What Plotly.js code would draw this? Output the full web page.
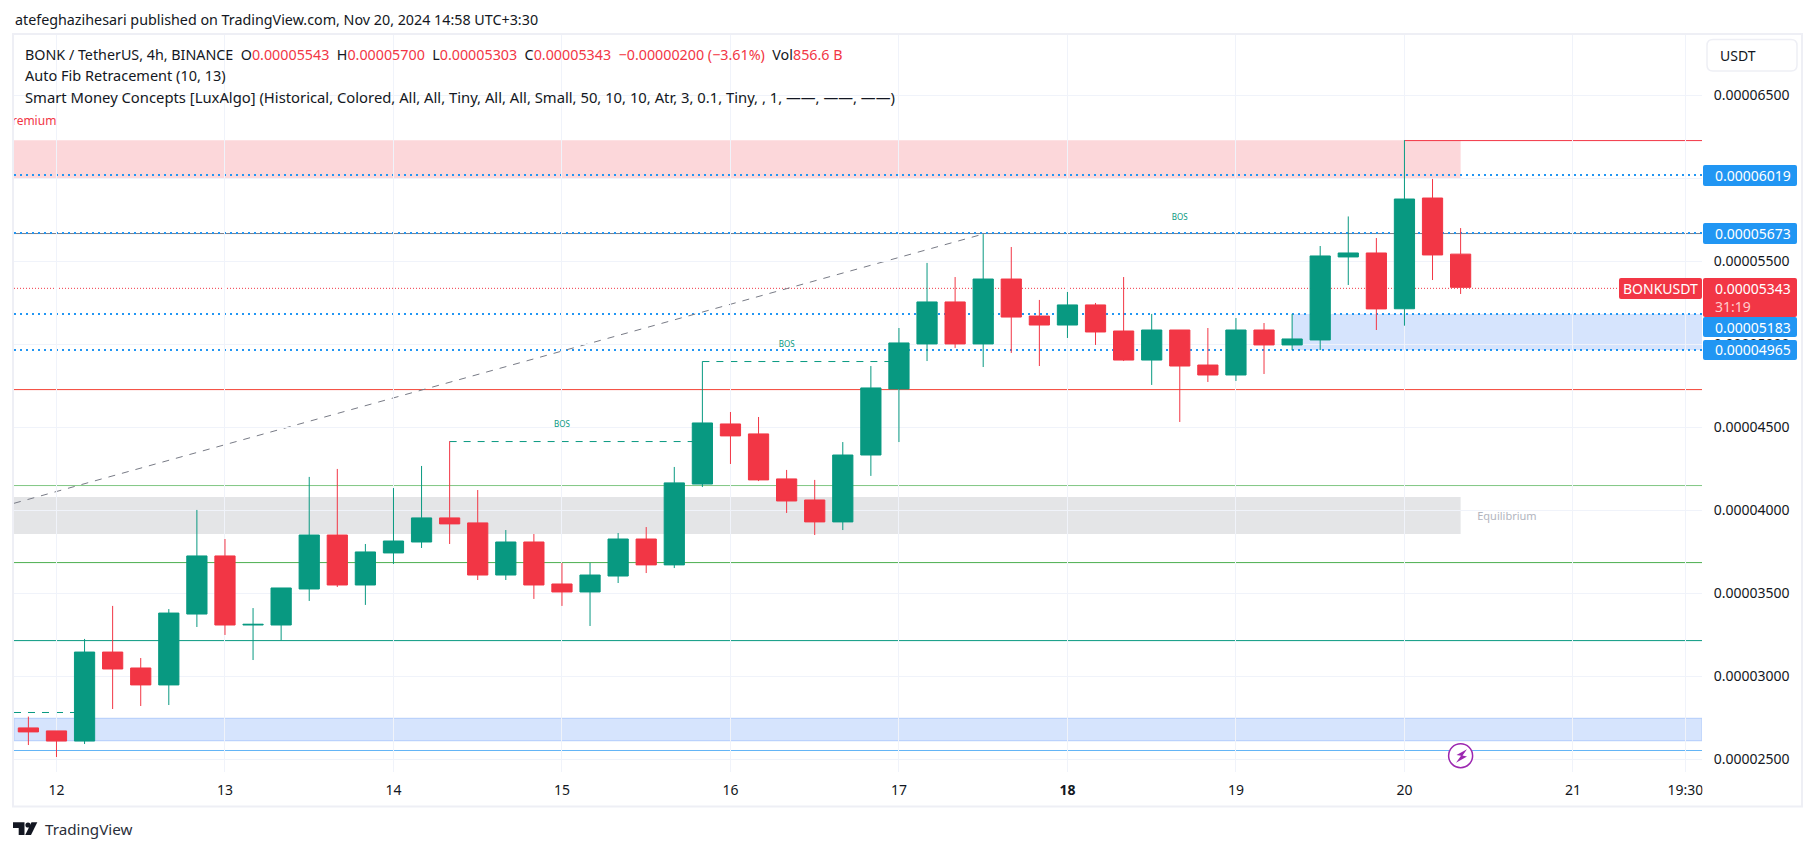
<!DOCTYPE html>
<html>
<head>
<meta charset="utf-8">
<script src="https://cdn.plot.ly/plotly-3.0.1.min.js"></script>
<style>html,body{margin:0;padding:0;background:#fff}</style>
</head>
<body>
<div id="chart"></div>
<script>
// BONK / USDT 4h, local time UTC+3:30. Prices are in units of 0.00000001
var times = [
  '2024-11-11 23:30',
  '2024-11-12 03:30','2024-11-12 07:30','2024-11-12 11:30','2024-11-12 15:30','2024-11-12 19:30','2024-11-12 23:30',
  '2024-11-13 03:30','2024-11-13 07:30','2024-11-13 11:30','2024-11-13 15:30','2024-11-13 19:30','2024-11-13 23:30',
  '2024-11-14 03:30','2024-11-14 07:30','2024-11-14 11:30','2024-11-14 15:30','2024-11-14 19:30','2024-11-14 23:30',
  '2024-11-15 03:30','2024-11-15 07:30','2024-11-15 11:30','2024-11-15 15:30','2024-11-15 19:30','2024-11-15 23:30',
  '2024-11-16 03:30','2024-11-16 07:30','2024-11-16 11:30','2024-11-16 15:30','2024-11-16 19:30','2024-11-16 23:30',
  '2024-11-17 03:30','2024-11-17 07:30','2024-11-17 11:30','2024-11-17 15:30','2024-11-17 19:30','2024-11-17 23:30',
  '2024-11-18 03:30','2024-11-18 07:30','2024-11-18 11:30','2024-11-18 15:30','2024-11-18 19:30','2024-11-18 23:30',
  '2024-11-19 03:30','2024-11-19 07:30','2024-11-19 11:30','2024-11-19 15:30','2024-11-19 19:30','2024-11-19 23:30',
  '2024-11-20 03:30','2024-11-20 07:30','2024-11-20 11:30'
];
var open = [2689,2671,2610,3146,3050,2948,3375,3725,3309,3309,3526,3851,3550,3743,3809,3954,3924,3610,3809,3556,3508,3604,3827,3671,
  4158,4520,4460,4189,4062,3930,4333,4731,5002,5255,5002,5393,5170,5116,5237,5080,4905,5086,4875,4815,5086,4996,5026,5526,5550,5214,5881,5543];
var high = [2757,2671,3225,3424,3110,3405,4002,3827,3411,3532,4201,4249,3797,4134,4267,4416,4122,3881,3857,3683,3683,3863,3899,4261,
  4897,4592,4562,4243,4183,4411,4869,5098,5490,5405,5664,5586,5267,5315,5249,5405,5183,5086,5098,5158,5128,5183,5592,5770,5640,6230,5996,5700];
var low = [2586,2514,2592,2803,2821,2827,3297,3249,3098,3217,3454,3538,3430,3677,3773,3797,3580,3580,3466,3424,3303,3562,3622,3652,
  4140,4279,4176,3984,3851,3881,4207,4411,4899,4978,4863,4948,4869,5038,4996,4899,4755,4532,4773,4779,4821,4965,4965,5357,5086,5112,5387,5303];
var close = [2665,2610,3146,3044,2948,3381,3725,3309,3313,3532,3851,3550,3749,3815,3954,3918,3610,3809,3550,3508,3610,3827,3671,4165,
  4526,4448,4183,4056,3930,4333,4737,5008,5255,5002,5393,5164,5116,5237,5074,4905,5086,4869,4815,5086,4996,5032,5532,5550,5213,5875,5538,5343];

var dayTicks = ['2024-11-12 03:30','2024-11-13 03:30','2024-11-14 03:30','2024-11-15 03:30','2024-11-16 03:30','2024-11-17 03:30',
  '2024-11-18 03:30','2024-11-19 03:30','2024-11-20 03:30','2024-11-21 03:30','2024-11-21 19:30'];
var dayLabels = ['12','13','14','15','16','17','<b>18</b>','19','20','21','19:30'];
var priceTicks = [2500,3000,3500,4000,4500,5000,5500,6000,6500];
var priceLabels = ['0.00002500','0.00003000','0.00003500','0.00004000','0.00004500','0.00005000','0.00005500','0.00006000','0.00006500'];

// levels, nudged a unit or two so they land on a whole pixel row
var dottedLevels = [6019,5670,5182,4965];
var fibLevels = [5667,4727,4149,3685,3215,2553];
var fibColors = ['#787b86','#f44336','#81c784','#4caf50','#089981','#64b5f6'];
var lastPrice = 5337;
var swingHigh = 6227;

var GREEN = '#089981', RED = '#f23645', BLUE = '#2196f3', INK = '#131722';
var FONT = '"Noto Sans", sans-serif';
var viewStart = '2024-11-11 21:27', viewEnd = '2024-11-21 21:53';

// pixel helpers for the page furniture around the pane
var xp = function(px){return (px - 14) / 1688;};
var yp = function(py){return 1 - (py - 35) / 737;};
var pt = function(px, py){return xp(px) + ' ' + yp(py);};

function zone(x0, x1, top, bottom, fill, border){
  return {type: 'rect', layer: 'below', xref: 'x', yref: 'y', x0: x0, x1: x1, y0: bottom, y1: top,
    fillcolor: fill, line: {width: border ? 1 : 0, color: border || fill}};
}
function hline(y, color, dash, width, x0){
  return {type: 'line', layer: 'below', xref: 'x', yref: 'y', x0: x0 || viewStart, x1: viewEnd, y0: y, y1: y,
    line: {color: color, width: width || 1, dash: dash || 'solid'}};
}
function segment(x0, y0, x1, y1, color){
  return {type: 'line', layer: 'below', xref: 'x', yref: 'y', x0: x0, x1: x1, y0: y0, y1: y1,
    line: {color: color, width: 1, dash: '7px,7px'}};
}
function box(x0, y0, x1, y1, fill, line, r){
  r = r === undefined ? 2 : r;
  var path = 'M' + pt(x0 + r, y0) + 'L' + pt(x1 - r, y0) + 'Q' + pt(x1, y0) + ' ' + pt(x1, y0 + r)
    + 'L' + pt(x1, y1 - r) + 'Q' + pt(x1, y1) + ' ' + pt(x1 - r, y1)
    + 'L' + pt(x0 + r, y1) + 'Q' + pt(x0, y1) + ' ' + pt(x0, y1 - r)
    + 'L' + pt(x0, y0 + r) + 'Q' + pt(x0, y0) + ' ' + pt(x0 + r, y0) + 'Z';
  return {type: 'path', layer: 'above', xref: 'paper', yref: 'paper', path: path,
    fillcolor: fill, line: {width: line ? 1.5 : 0, color: line || fill}};
}
function poly(points, fill){
  var path = 'M' + points.map(function(p){return pt(p[0], p[1]);}).join('L') + 'Z';
  return {type: 'path', layer: 'above', xref: 'paper', yref: 'paper', path: path, fillcolor: fill, line: {width: 0}};
}
function label(px, py, text, size, color, anchor){
  return {xref: 'paper', yref: 'paper', x: xp(px), y: yp(py), text: text, showarrow: false,
    xanchor: anchor || 'left', yanchor: 'middle', align: 'left', font: {family: FONT, size: size, color: color}};
}

var shapes = [
  zone(viewStart, times[51], 6229, 6000, 'rgba(242,54,69,0.2)'),
  zone(viewStart, times[51], 4080, 3857, 'rgba(120,123,134,0.2)'),
  zone(viewStart, viewEnd, 2747, 2612, 'rgba(50,120,245,0.2)', '#b2ccfb'),
  zone(times[45], viewEnd, 5183, 4965, 'rgba(50,120,245,0.2)')
];
fibLevels.forEach(function(y, i){ shapes.push(hline(y, fibColors[i])); });
dottedLevels.forEach(function(y){ shapes.push(hline(y, BLUE, '2px,4px', 2)); });
shapes.push(hline(swingHigh, RED, 'solid', 1, times[49]));
shapes.push(hline(lastPrice, RED, '1px,2px', 1));
shapes.push({type: 'line', layer: 'below', xref: 'x', yref: 'y', x0: viewStart, x1: times[34], y0: 4042, y1: 5664,
  line: {color: '#787b86', width: 1, dash: '7px,7px'}});
shapes.push(segment(viewStart, 2782, times[2], 2782, GREEN));
shapes.push(segment(times[15], 4414, times[24], 4414, GREEN));
shapes.push(segment(times[24], 4896, times[31], 4896, GREEN));

// frame, hidden end of the time label, price tags, logo
shapes.push(box(1702.5, 775, 1720, 805, '#ffffff', null, 0));
shapes.push({type: 'rect', layer: 'above', xref: 'paper', yref: 'paper', x0: xp(13), x1: xp(1802), y0: yp(34), y1: yp(806.5),
  line: {color: '#eeeff5', width: 2}});
shapes.push(box(1703, 165, 1797, 186, BLUE));
shapes.push(box(1703, 223, 1797, 244, BLUE));
shapes.push(box(1703, 317, 1797, 337, BLUE));
shapes.push(box(1703, 340, 1797, 360, BLUE));
shapes.push(box(1703, 278, 1797, 317, RED));
shapes.push(box(1619, 278, 1702, 299, RED));
shapes.push(box(1707, 39.5, 1797, 71, '#ffffff', '#eeeff5', 6));
shapes.push(poly([[13, 822.3], [24.5, 822.3], [24.5, 835], [18.7, 835], [18.7, 828], [13, 828]], INK));
shapes.push(poly([[31.5, 822.3], [37.3, 822.3], [31, 835], [25.2, 835]], INK));
shapes.push({type: 'circle', layer: 'above', xref: 'paper', yref: 'paper', fillcolor: INK, line: {width: 0},
  x0: xp(25.4), x1: xp(30.6), y0: yp(822.4), y1: yp(827.6)});
// lightning bolt of the marker below the last bar
shapes.push(poly([[1467, 749.3], [1456.5, 755], [1461, 755.8], [1456, 762.7], [1467, 756.5], [1462.5, 755.5]], '#9c27b0'));

var red = function(s){return '<span style="color:' + RED + '">' + s + '</span>';};
var sp = '\u00a0\u00a0';
var annotations = [
  label(13, 20, 'atefeghazihesari published on TradingView.com, Nov 20, 2024 14:58 UTC+3:30', 14.3, INK),
  label(23, 54, 'BONK / TetherUS, 4h, BINANCE' + sp + 'O' + red('0.00005543') + sp + 'H' + red('0.00005700') + sp + 'L' + red('0.00005303')
    + sp + 'C' + red('0.00005343') + sp + red('\u22120.00000200 (\u22123.61%)') + sp + 'Vol' + red('856.6\u00a0B'), 14.3, INK),
  label(23, 75, 'Auto Fib Retracement (10, 13)', 14.5, INK),
  label(23, 96.7, 'Smart Money Concepts [LuxAlgo] (Historical, Colored, All, All, Tiny, All, All, Small, 50, 10, 10, Atr, 3, 0.1, Tiny, , 1, \u2014\u2014, \u2014\u2014, \u2014\u2014)', 14.8, INK),
  label(1718, 55.5, 'USDT', 14, INK),
  label(1713.5, 175.5, '0.00006019', 14, '#ffffff'),
  label(1713.5, 233.5, '0.00005673', 14, '#ffffff'),
  label(1713.5, 327, '0.00005183', 14, '#ffffff'),
  label(1713.5, 350, '0.00004965', 14, '#ffffff'),
  label(1713.5, 297.5, '0.00005343<br><span style="color:#fcc">31:19</span>', 14, '#ffffff'),
  label(1660.5, 288.5, 'BONKUSDT', 14, '#ffffff', 'center'),
  label(43, 829, 'TradingView', 15.2, '#2a2e39')
];

var candles = {
  type: 'candlestick', x: times, open: open, high: high, low: low, close: close,
  increasing: {line: {color: GREEN, width: 1}, fillcolor: GREEN},
  decreasing: {line: {color: RED, width: 1}, fillcolor: RED},
  whiskerwidth: 0, hoverinfo: 'skip', showlegend: false
};
// zone and structure labels, clipped by the pane like the originals
var tags = {
  type: 'scatter', mode: 'text', hoverinfo: 'skip', showlegend: false,
  x: [times[19], times[27], times[41], '2024-11-20 18:06', '2024-11-11 23:48'],
  y: [4513, 4996, 5763, 3960, 6341],
  text: ['BOS', 'BOS', 'BOS', 'Equilibrium', 'Premium'],
  textfont: {family: FONT, size: [8, 8, 8, 11, 12], color: [GREEN, GREEN, GREEN, '#b2b5be', RED]}
};
var bolt = {
  type: 'scatter', mode: 'markers', hoverinfo: 'skip', showlegend: false,
  x: [times[51]], y: [2522],
  marker: {size: 24, color: '#ffffff', line: {color: '#9c27b0', width: 1.5}}
};

var layout = {
  width: 1815, height: 851,
  margin: {l: 14, r: 113, t: 35, b: 79},
  paper_bgcolor: '#ffffff', plot_bgcolor: '#ffffff',
  font: {family: FONT, size: 14, color: INK},
  boxgap: 0.28,
  boxgroupgap: 0,
  showlegend: false,
  hovermode: false,
  xaxis: {type: 'date', range: [viewStart, viewEnd], rangeslider: {visible: false}, tickmode: 'array',
    tickvals: dayTicks, ticktext: dayLabels, gridcolor: '#f0f3fa', gridwidth: 1, zeroline: false, showline: false,
    ticks: 'outside', ticklen: 5, tickcolor: 'rgba(0,0,0,0)', tickangle: 0, tickfont: {size: 14, color: INK}},
  yaxis: {side: 'right', range: [2423.5, 6863], tickmode: 'array', tickvals: priceTicks, ticktext: priceLabels,
    gridcolor: '#f0f3fa', gridwidth: 1, zeroline: false, showline: false,
    ticks: 'outside', ticklen: 8, tickcolor: 'rgba(0,0,0,0)', tickfont: {size: 14, color: INK}},
  shapes: shapes,
  annotations: annotations
};

Plotly.newPlot('chart', [candles, tags, bolt], layout, {displayModeBar: false, staticPlot: true});
</script>
</body>
</html>
